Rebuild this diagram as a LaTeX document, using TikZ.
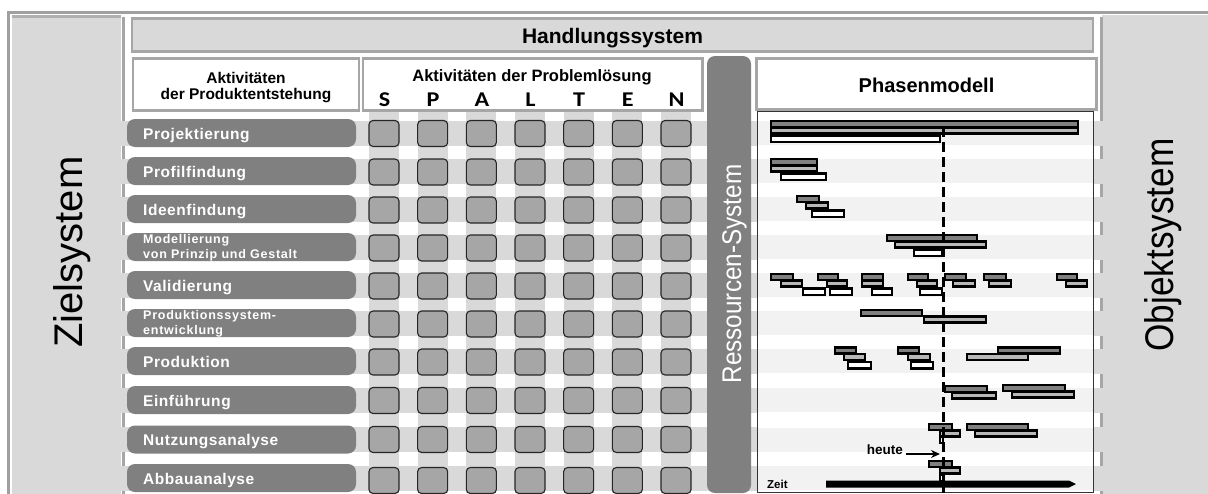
\documentclass[tikz,border=0pt]{standalone}
\usepackage{fontspec}
\usepackage{graphicx}
\setmainfont{Liberation Sans}
\newfontfamily\calib{Carlito}
\newfontfamily\actfont[LetterSpace=3.5]{Liberation Sans}
\newfontfamily\actfontsm[LetterSpace=6]{Liberation Sans}
\usetikzlibrary{arrows.meta}
\definecolor{lg}{HTML}{D9D9D9}
\definecolor{mg}{HTML}{A6A6A6}
\definecolor{dg}{HTML}{808080}
\definecolor{vlg}{HTML}{F2F2F2}
\definecolor{brd}{HTML}{A0A0A0}
\newcommand\GD[3]{\draw[gbar,fill=dg] (#1+1,#3+1) rectangle (#2-1,#3+7);}
\newcommand\GL[3]{\draw[gbar,fill=lg!85!black] (#1+1,#3+7.5) rectangle (#2-1,#3+13.5);}
\newcommand\GW[3]{\draw[gbar,fill=white] (#1+1,#3+15.5) rectangle (#2-1,#3+22);}
\begin{document}
\begin{tikzpicture}[x=1pt,y=-1pt,
  gbar/.style={draw=black,line width=2.1pt},
  actbar/.style={fill=dg,rounded corners=8pt,minimum width=229pt,minimum height=28pt,inner sep=0pt},
  acttext/.style={text=white,font=\actfont\bfseries\fontsize{15.5}{17}\selectfont,inner sep=0pt},
  acttextsm/.style={text=white,font=\actfontsm\bfseries\fontsize{12.5}{14}\selectfont,inner sep=0pt},
  gbox/.style={fill=mg,draw=black!85,line width=1.1pt,rounded corners=4pt,minimum width=30pt,minimum height=26pt,inner sep=0pt},
  hdrbox/.style={fill=white,draw=mg,line width=2.5pt},
  letter/.style={font=\calib\bfseries\fontsize{21}{22}\selectfont,inner sep=0pt,anchor=base},
  hdrtext/.style={font=\bfseries\fontsize{15.5}{16}\selectfont,inner sep=0pt,anchor=base},
]
\useasboundingbox (0,0) rectangle (1208,493);
% outer frame and side panels
\draw[brd,line width=3pt] (8.5,12.5) rectangle (1230,520);
\fill[lg] (12,15) rectangle (121,520);
\draw[mg!80!lg,line width=3pt] (12,16) -- (121,16);
\draw[mg,line width=3pt] (123,17) -- (123,520);
\fill[lg] (1102,15) rectangle (1230,520);
\draw[mg,line width=3pt] (1101,17) -- (1101,520);
% row stripes
\foreach \yc in {133,171,209,247,285,323,361,400,439.5,478}
  \fill[lg] (120.5,\yc-12.5) rectangle (1103,\yc+12.5);
% column stripes
\foreach \j in {0,...,6}
  \fill[lg] ({384+48.67*\j-15},112) rectangle ({384+48.67*\j+15},493);
% Handlungssystem bar
\node[fill=lg,draw=mg,line width=2.5pt,minimum width=961pt,minimum height=33pt,inner sep=0pt] (hs) at (612.5,35) {};
\node[font=\bfseries\fontsize{21}{24}\selectfont,inner sep=0pt,anchor=base] (hst) at (612.5,43) {Handlungssystem};
% header boxes
\draw[hdrbox] (133,58.5) rectangle (359,110.5);
\node[hdrtext] (ha1) at (246,83) {Aktivitäten};
\node[hdrtext] (ha2) at (246,99) {der Produktentstehung};
\draw[hdrbox] (363,58.5) rectangle (702.5,110.5);
\node[font=\bfseries\fontsize{16.5}{18}\selectfont,inner sep=0pt,anchor=base] (hb) at (532,81) {Aktivitäten der Problemlösung};
\foreach \l [count=\k from 0] in {S,P,A,L,T,E,N}
  \node[letter] (L\k) at ({384.5+48.67*\k},106) {\scalebox{1.15}[1]{\l}};
\draw[hdrbox] (756.5,58.5) rectangle (1096.5,109.5);
\node[font=\bfseries\fontsize{20}{22}\selectfont,inner sep=0pt,anchor=base] (pm) at (926.5,92) {Phasenmodell};
% Ressourcen-System bar
\fill[dg,rounded corners=8pt] (707,56) rectangle (751,493);
\node[rotate=90,text=white,font=\fontsize{27}{30}\selectfont,inner sep=0pt,anchor=base] (res) at (741,274) {\scalebox{0.9}[1]{Ressourcen-System}};
% side labels
\node[rotate=90,font=\fontsize{40}{44}\selectfont,inner sep=0pt,anchor=base] (ziel) at (82,252) {Zielsystem};
\node[rotate=90,font=\fontsize{40}{44}\selectfont,inner sep=0pt,anchor=base] (obj) at (1173,245) {\scalebox{0.88}[1]{Objektsystem}};
% activity bars
\foreach \yc [count=\i from 0] in {133,171,209,247,285,323,361,400,439.5,478}
  \node[actbar] (a\i) at (241.5,\yc) {};
\node[acttext,anchor=base west] at (143,139) {Projektierung};
\node[acttext,anchor=base west] at (143,177) {Profilfindung};
\node[acttext,anchor=base west] at (143,215) {Ideenfindung};
\node[acttextsm,anchor=base west] at (143,243) {Modellierung};
\node[acttextsm,anchor=base west] at (143,258.5) {von Prinzip und Gestalt};
\node[acttext,anchor=base west] at (143,291) {Validierung};
\node[acttextsm,anchor=base west] at (143,319) {Produktionssystem-};
\node[acttextsm,anchor=base west] at (143,334.5) {entwicklung};
\node[acttext,anchor=base west] at (143,367) {Produktion};
\node[acttext,anchor=base west] at (143,406) {Einführung};
\node[acttext,anchor=base west] at (143,445.5) {Nutzungsanalyse};
\node[acttext,anchor=base west] at (143,484) {Abbauanalyse};
% grid boxes
\foreach \yc [count=\i from 0] in {133.5,172,210,248,286,324,362,400.5,439.5,480.5}
  \foreach \j in {0,...,6}
    \node[gbox] (g\i-\j) at ({384+48.67*\j},\yc) {};
% phase model chart
\draw[fill=white,draw=black!80,line width=0.8pt] (757,111) rectangle (1093,492);
\foreach \yc in {133,171,209,247,285,323,361,400,439.5,478}
  \fill[vlg] (757.5,\yc-12) rectangle (1092.5,\yc+12);
% row 0
\GD{770}{1079}{120}\GL{770}{1079}{120}\GW{770}{941}{120}
% row 1
\GD{770}{818}{158}\GL{770}{818}{158}\GW{780}{827}{158}
% row 2
\GD{796}{820}{195}\GL{805}{829}{195}\GW{811}{845}{195}
% row 3
\GD{886}{978}{234}\GL{894}{987}{234}\GW{913}{943}{234}
% row 4
\GD{770}{794}{273}\GL{780}{803}{273}\GW{802}{826}{273}
\GD{817}{839}{273}\GL{826}{848}{273}\GW{829}{853}{273}
\GD{861}{884}{273}\GL{861}{884}{273}\GW{871}{893}{273}
\GD{907}{929}{273}\GL{916}{938}{273}\GW{919}{943}{273}
\GD{944}{967}{273}\GL{952}{976}{273}
\GD{983}{1007}{273}\GL{988}{1012}{273}
\GD{1056}{1078}{273}\GL{1065}{1088}{273}
% row 5
\GD{860}{923}{309}\GL{923}{987}{309}
% row 6
\GD{834}{857}{346.5}\GL{843}{866}{346.5}\GW{847}{872}{346.5}
\GD{897}{920}{346.5}\GL{907}{931}{346.5}\GW{910}{934}{346.5}
\GD{997}{1061}{346.5}\GL{966}{1029}{346.5}
% row 7
\GD{944}{988}{385}\GL{951}{997}{385}
\GD{1002}{1066}{384}\GL{1011}{1075}{384}
% row 8
\GD{928}{953}{423}\GL{939}{961}{423}\GW{939}{944}{421}
\GD{966}{1029}{423}\GL{974}{1038}{423}
% row 9
\GD{928}{953}{460}\GL{939}{961}{460}\GW{939}{944}{459}
% today line
\coordinate (d0) at (943,127);
\coordinate (d1) at (943,493);
\draw[line width=3pt,dash pattern=on 10pt off 5pt] (d0) -- (d1);
% heute
\node[font=\bfseries\fontsize{13.5}{15}\selectfont,inner sep=0pt,anchor=base east] (heute) at (903,454) {heute};
\coordinate (now) at (940,454);
\draw[line width=2.5pt,-{Stealth[length=9pt,width=8pt]}] ([xshift=3pt]heute.base east) -- (now);
% Zeit axis
\node[font=\bfseries\fontsize{11.5}{13}\selectfont,inner sep=0pt,anchor=base west] (zeit) at (767,488) {Zeit};
\coordinate (t0) at (826,484);
\coordinate (t1) at (1076,484);
\fill ([yshift=-3.5pt]t0) -- ([xshift=-7pt,yshift=-3.5pt]t1) -- (t1) -- ([xshift=-7pt,yshift=3.5pt]t1) -- ([yshift=3.5pt]t0) -- cycle;
\end{tikzpicture}
\end{document}
